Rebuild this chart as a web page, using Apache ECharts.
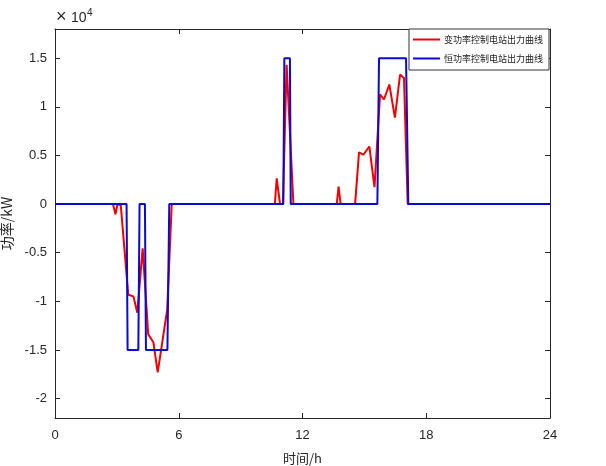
<!DOCTYPE html>
<html>
<head>
<meta charset="utf-8">
<script src="https://cdn.jsdelivr.net/npm/echarts@6/dist/echarts.min.js"></script>
<style>
  html, body { margin: 0; padding: 0; background: #fff; }
  #chart { width: 606px; height: 466px; }
</style>
</head>
<body>
<div id="chart"></div>
<script>
// variable-power plant output (hour, kW)
const redTime = [0, 2.81, 2.93, 3.03, 3.19, 3.55, 3.80, 3.99, 4.25, 4.52, 4.77, 4.98, 5.44, 5.66,
  10.66, 10.75, 10.91, 11.05, 11.23, 11.56, 13.66, 13.75, 13.85, 14.55, 14.74, 14.95, 15.24, 15.49,
  15.76, 15.95, 16.21, 16.48, 16.73, 16.92, 17.10, 24]
const redPower = [0, 0, -1050, 0, -130, -9320, -9490, -11180, -4550, -13400, -14210, -17310, -10850, 0,
  0, 2650, 0, 0, 14330, 0, 0, 1800, 0, 0, 5310, 5070, 5920, 1730,
  11270, 10750, 12290, 8880, 13310, 12960, 0, 0]

// constant-power plant output (hour, kW)
const blueTime = [0, 3.47, 3.52, 4.04, 4.10, 4.36, 4.41, 5.45, 5.54, 11.07, 11.12, 11.39, 11.43,
  15.63, 15.71, 17.02, 17.13, 24]
const bluePower = [0, 0, -15000, -15000, 0, 0, -15000, -15000, 0, 0, 15000, 15000, 0,
  0, 15000, 15000, 0, 0]

const seriesNames = ['变功率控制电站出力曲线', '恒功率控制电站出力曲线']
const xTicks = [0, 6, 12, 18, 24]
const yTicks = [-20000, -15000, -10000, -5000, 0, 5000, 10000, 15000]

const zip = (xs, ys) => xs.map((x, i) => [x, ys[i]])

const axisColor = '#262626'
const labelFont = { color: axisColor, fontSize: 13, fontFamily: 'Liberation Sans, Arial, sans-serif' }
const cjkFont = 'Noto Sans CJK SC, sans-serif'

const baseX = {
  type: 'value',
  min: 0,
  max: 24,
  interval: 6,
  splitLine: { show: false },
  axisLine: { show: true, onZero: false, lineStyle: { color: axisColor, width: 1 } },
  axisTick: { show: true, inside: true, length: 5, lineStyle: { color: axisColor } }
}

const baseY = {
  type: 'value',
  min: -22000,
  max: 18000,
  splitLine: { show: false },
  axisLine: { show: true, onZero: false, lineStyle: { color: axisColor, width: 1 } },
  axisTick: { show: true, inside: true, length: 5, customValues: yTicks, lineStyle: { color: axisColor } }
}

const chart = echarts.init(document.getElementById('chart'), null, { renderer: 'canvas' })

chart.setOption({
  animation: false,
  backgroundColor: '#fff',
  grid: { left: 55, right: 56, top: 29, bottom: 48, containLabel: false, outerBoundsMode: 'none' },
  xAxis: [
    Object.assign({}, baseX, {
      position: 'bottom',
      name: '时间/h',
      nameLocation: 'middle',
      nameGap: 34,
      nameTextStyle: { color: axisColor, fontSize: 13, fontFamily: cjkFont },
      axisLabel: Object.assign({ margin: 11, customValues: xTicks }, labelFont)
    }),
    Object.assign({}, baseX, { position: 'top', axisLabel: { show: false } })
  ],
  yAxis: [
    Object.assign({}, baseY, {
      position: 'left',
      name: '功率/kW',
      nameLocation: 'middle',
      nameGap: 36,
      nameTextStyle: { color: axisColor, fontSize: 14, fontFamily: cjkFont },
      axisLabel: Object.assign({
        margin: 8,
        customValues: yTicks,
        formatter: v => String(v / 10000)
      }, labelFont)
    }),
    Object.assign({}, baseY, { position: 'right', axisLabel: { show: false } })
  ],
  legend: {
    orient: 'vertical',
    right: 57,
    top: 29,
    itemWidth: 27,
    itemHeight: 2,
    itemGap: 10,
    padding: [6, 6, 7, 4],
    icon: 'rect',
    backgroundColor: '#fff',
    borderColor: '#333',
    borderWidth: 1,
    borderRadius: 0,
    textStyle: { color: '#222', fontSize: 9, fontFamily: cjkFont, padding: [0, 0, 0, -1] },
    data: seriesNames
  },
  graphic: [
    {
      type: 'text',
      left: 56,
      top: 8,
      style: { text: '×', fill: axisColor, font: '18px Liberation Sans, Arial, sans-serif' }
    },
    {
      type: 'text',
      left: 71,
      top: 11,
      style: { text: '10', fill: axisColor, font: '14px Liberation Sans, Arial, sans-serif' }
    },
    {
      type: 'text',
      left: 87,
      top: 8,
      style: { text: '4', fill: axisColor, font: '10px Liberation Sans, Arial, sans-serif' }
    }
  ],
  series: [
    {
      name: seriesNames[0],
      type: 'line',
      data: zip(redTime, redPower),
      symbol: 'none',
      color: '#f00000',
      lineStyle: { width: 2, color: '#f00000' },
      z: 2
    },
    {
      name: seriesNames[1],
      type: 'line',
      data: zip(blueTime, bluePower),
      symbol: 'none',
      color: '#0a0ad0',
      lineStyle: { width: 2, color: '#0a0ad0' },
      z: 3
    }
  ]
})
</script>
</body>
</html>
